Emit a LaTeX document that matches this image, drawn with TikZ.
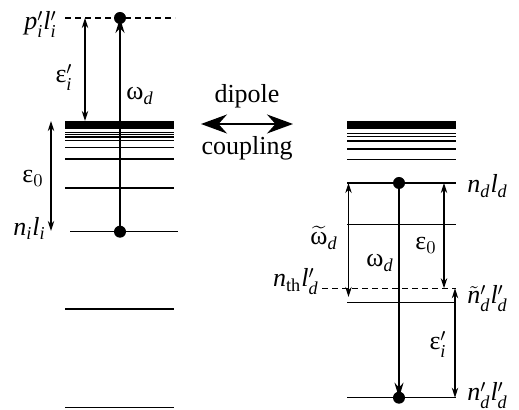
\documentclass[tikz,border=0pt]{standalone}
\usepackage{amsmath}
\usepackage{fontspec}
\setmainfont{Liberation Serif}
\usetikzlibrary{arrows.meta}
\newcommand{\mi}[1]{\mathit{#1}}

\begin{document}
\begin{tikzpicture}[x=0.5pt,y=-0.5pt,every node/.style={font=\fontsize{13}{15}\selectfont,inner sep=0pt},
  lvl/.style={line width=.7pt},
  band/.style={line width=4pt},
  gap/.style={line width=.6pt,{Stealth[length=5pt,width=3.2pt]}-{Stealth[length=5pt,width=3.2pt]}},
  photon/.style={line width=1pt,-{Stealth[length=7.5pt,width=4.5pt]}}]
\useasboundingbox (0,0) rectangle (519,410);
% left atom
\coordinate (pl) at (65,18);
\coordinate (pr) at (175,18);
\draw[lvl,dashed,dash pattern=on 3pt off 2pt] (pl)--(pr);
\draw[band] (65,125)--(174,125);
\foreach \y in {132.3,134.6,137.2,140.3,147.7,159,188} \draw[lvl] (65,\y)--(174,\y);
\coordinate (il) at (70,231.7);
\coordinate (ir) at (178,231.7);
\draw[lvl] (il)--(ir);
\draw[lvl] (65,309)--(174,309);
\draw[lvl] (65,407.5)--(174,407.5);
\coordinate (ia) at (120,231.7);
\coordinate (pa) at (120,18);
\draw[photon] (ia)--(pa);
\fill (pa) circle (3pt);
\fill (ia) circle (3pt);
\coordinate (e1t) at (85,18);
\coordinate (e1b) at (85,121);
\draw[gap] (e1t)--(e1b);
\coordinate (e0t) at (51,121);
\coordinate (e0b) at (51,231);
\draw[gap] (e0t)--(e0b);
\node[anchor=base east] (pli) at (57,30) {$\mi{p}'_{\mi{i}}\mi{l}'_{\mi{i}}$};
\node[anchor=base] (epsi) at (64,83) {ε$'_{\mi{i}}$};
\node[anchor=base] (omd) at (140,100) {ω$_{\mi{d}}$};
\node[anchor=base] (eps0) at (33,183) {ε$_0$};
\node[anchor=base east] (nili) at (46,236) {$\mi{n}_{\mi{i}}\mi{l}_{\mi{i}}$};
% coupling
\coordinate (cl) at (201,124);
\coordinate (cr) at (293,124);
\draw[line width=.7pt,{Stealth[length=13pt,width=9.5pt]}-{Stealth[length=13pt,width=9.5pt]}] (cl)--(cr);
\node[anchor=base] (dip) at (247,103) {dipole};
\node[anchor=base] (cpl) at (247,155) {coupling};
% right atom
\draw[band] (347,125.5)--(456,125.5);
\foreach \y in {133.6,136.4,141,149,159.7} \draw[lvl] (347,\y)--(456,\y);
\coordinate (dl) at (347,183);
\coordinate (dr) at (456,183);
\draw[lvl] (dl)--(dr);
\draw[lvl] (347,224.3)--(456,224.3);
\coordinate (thl) at (322,288.3);
\coordinate (thr) at (456,288.3);
\draw[lvl,dashed,dash pattern=on 3pt off 2pt] (thl)--(thr);
\coordinate (tl) at (347,302.3);
\coordinate (tr) at (456,302.3);
\draw[lvl] (tl)--(tr);
\coordinate (bl) at (347,397.7);
\coordinate (br) at (456,397.7);
\draw[lvl] (bl)--(br);
\coordinate (da) at (399,183);
\coordinate (ba) at (399,397.7);
\draw[photon] (da)--(ba);
\fill (da) circle (3pt);
\fill (ba) circle (3pt);
\coordinate (wt) at (348.5,183);
\coordinate (wb) at (348.5,297);
\draw[gap] (wt)--(wb);
\coordinate (e2t) at (444,183);
\coordinate (e2b) at (444,288.3);
\draw[gap] (e2t)--(e2b);
\coordinate (e3t) at (455,288.3);
\coordinate (e3b) at (455,397.7);
\draw[gap] (e3t)--(e3b);
\node[anchor=base west] (ndld) at (467,193) {$\mi{n}_{\mi{d}}\mi{l}_{\mi{d}}$};
\node[anchor=base] (omt) at (324,245) {$\widetilde{\text{ω}}_{\mi{d}}$};
\node[anchor=base] (eps0r) at (426,250) {ε$_0$};
\node[anchor=base] (omdr) at (380,267) {ω$_{\mi{d}}$};
\node[anchor=base east] (nth) at (319,287) {$\mi{n}_{\mathrm{th}}\mi{l}'_{\mi{d}}$};
\node[anchor=base west] (tnd) at (467,304) {$\tilde{\mi{n}}'_{\mi{d}}\mi{l}'_{\mi{d}}$};
\node[anchor=base] (epsr) at (438,350) {ε$'_{\mi{i}}$};
\node[anchor=base west] (nd2) at (467,401) {$\mi{n}'_{\mi{d}}\mi{l}'_{\mi{d}}$};
\end{tikzpicture}
\end{document}
